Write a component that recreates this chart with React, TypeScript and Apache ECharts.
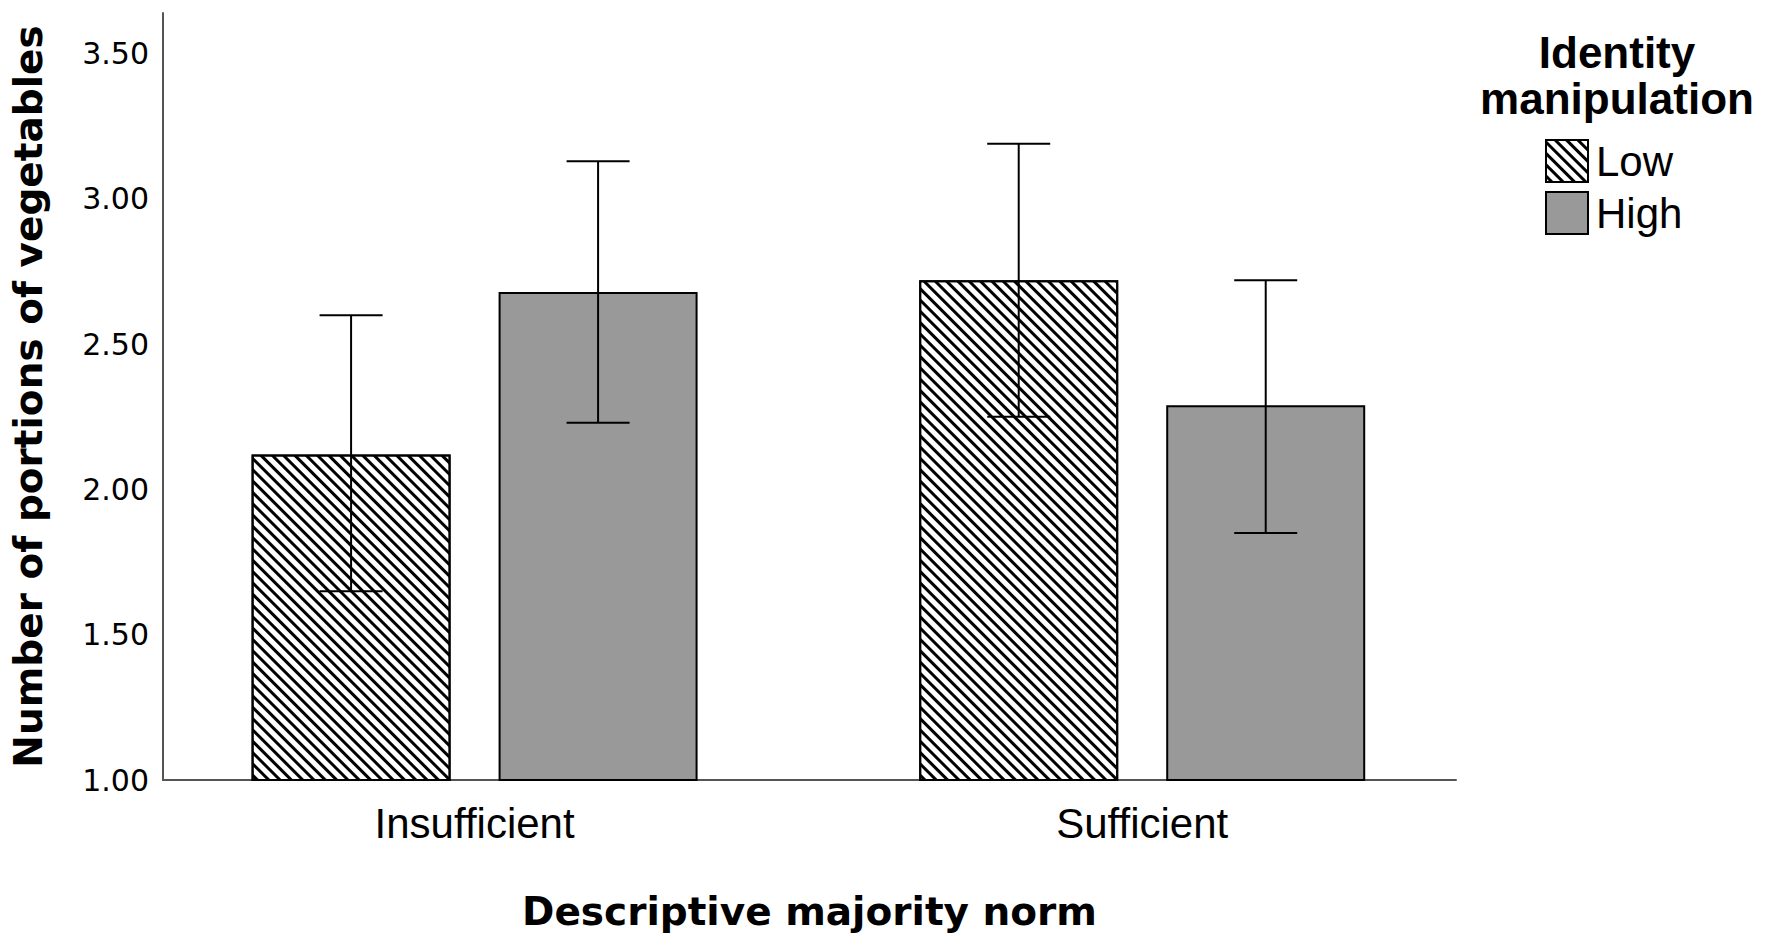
import React, { useEffect, useRef } from "react";
import * as echarts from "echarts";

const categories = ["Insufficient", "Sufficient"];
const seriesNames = ["Low", "High"];
const lowMeans = [2.12, 2.72];
const lowLower = [1.65, 2.25];
const lowUpper = [2.6, 3.19];
const highMeans = [2.68, 2.29];
const highLower = [2.23, 1.85];
const highUpper = [3.13, 2.72];
const yTicks = [1, 1.5, 2, 2.5, 3, 3.5];

const BAR_W = 199;
const BAR_GAP = 48;
const CAP_W = 63;

export default function App() {
  const ref = useRef<HTMLDivElement>(null);
  useEffect(() => {
    if (!ref.current) return;
    document.body.style.margin = "0";
    const chart = echarts.init(ref.current, null, { renderer: "svg" });
    const offset = (BAR_W + BAR_GAP) / 2;
    const errSeries = (name: string, lo: number[], hi: number[], dx: number) => ({
      type: "custom",
      name: name + " CI",
      z: 5,
      silent: true,
      data: categories.map((_, i) => [i, lo[i], hi[i]]),
      renderItem: (params: any, api: any) => {
        const x = api.value(0);
        const pLo = api.coord([x, api.value(1)]);
        const pHi = api.coord([x, api.value(2)]);
        const cx = pLo[0] + dx;
        const st = { stroke: "#000", lineWidth: 2 };
        return {
          type: "group",
          children: [
            { type: "line", shape: { x1: cx, y1: pLo[1], x2: cx, y2: pHi[1] }, style: st },
            { type: "line", shape: { x1: cx - CAP_W / 2, y1: pLo[1], x2: cx + CAP_W / 2, y2: pLo[1] }, style: st },
            { type: "line", shape: { x1: cx - CAP_W / 2, y1: pHi[1], x2: cx + CAP_W / 2, y2: pHi[1] }, style: st },
          ],
        };
      },
    });
    chart.setOption({
      animation: false,
      grid: { left: 163, right: 316, top: 13, bottom: 155, containLabel: false },
      legend: {
        orient: "vertical",
        left: 1545,
        top: 139,
        itemWidth: 42,
        itemHeight: 42,
        itemGap: 8,
        padding: 0,
        icon: "rect",
        data: seriesNames,
        textStyle: { fontSize: 42, fontFamily: "Liberation Sans", color: "#000", padding: [0, 0, 0, 3] },
      },
      graphic: [
        {
          type: "text",
          x: 1617,
          y: 29,
          style: {
            text: "Identity\nmanipulation",
            textAlign: "center",
            textVerticalAlign: "top",
            fontSize: 44,
            lineHeight: 46,
            fontWeight: "bold",
            fontFamily: "Liberation Sans",
            fill: "#000",
          },
        },
      ],
      xAxis: {
        type: "value",
        min: -0.4667,
        max: 1.47,
        splitLine: { show: false },
        axisLine: { show: true, onZero: false, lineStyle: { color: "#555", width: 2 } },
        axisTick: { show: false },
        axisLabel: {
          customValues: [0, 1],
          formatter: (v: number) => categories[Math.round(v)] ?? "",
          fontSize: 42,
          fontFamily: "Liberation Sans",
          color: "#000",
          margin: 22,
        },
        name: "Descriptive majority norm",
        nameLocation: "middle",
        nameGap: 112,
        nameTextStyle: { fontSize: 39, fontWeight: "bold", fontFamily: "DejaVu Sans", color: "#000" },
      },
      yAxis: {
        type: "value",
        min: 1,
        max: 3.64,
        interval: 0.5,
        splitLine: { show: false },
        axisLine: { show: true, onZero: false, lineStyle: { color: "#555", width: 2 } },
        axisTick: { show: false },
        axisLabel: {
          showMaxLabel: false,
          formatter: (v: number) => (yTicks.includes(v) ? v.toFixed(2) : ""),
          fontSize: 30,
          fontFamily: "DejaVu Sans",
          color: "#000",
          margin: 14,
          padding: [8, 0, 0, 0],
        },
        name: "Number of portions of vegetables",
        nameLocation: "middle",
        nameGap: 115,
        nameTextStyle: { fontSize: 39, fontWeight: "bold", fontFamily: "DejaVu Sans", color: "#000" },
      },
      series: [
        {
          type: "bar",
          name: "Low",
          barWidth: BAR_W,
          barGap: (BAR_GAP / BAR_W) * 100 + "%",
          data: categories.map((_, i) => [i, lowMeans[i]]),
          itemStyle: {
            color: "#fff",
            borderColor: "#000",
            borderWidth: 2,
            decal: {
              symbol: "rect",
              symbolSize: 1,
              color: "#000",
              backgroundColor: "#fff",
              dashArrayX: [1, 0],
              dashArrayY: [2.5, 4.5],
              rotation: Math.PI / 4,
            },
          },
        },
        {
          type: "bar",
          name: "High",
          barWidth: BAR_W,
          barGap: (BAR_GAP / BAR_W) * 100 + "%",
          data: categories.map((_, i) => [i, highMeans[i]]),
          itemStyle: { color: "#999999", borderColor: "#000", borderWidth: 2 },
        },
        errSeries("Low", lowLower, lowUpper, -offset),
        errSeries("High", highLower, highUpper, offset),
      ],
    });
    return () => chart.dispose();
  }, []);
  return <div ref={ref} style={{ width: 1772, height: 936 }} />;
}
